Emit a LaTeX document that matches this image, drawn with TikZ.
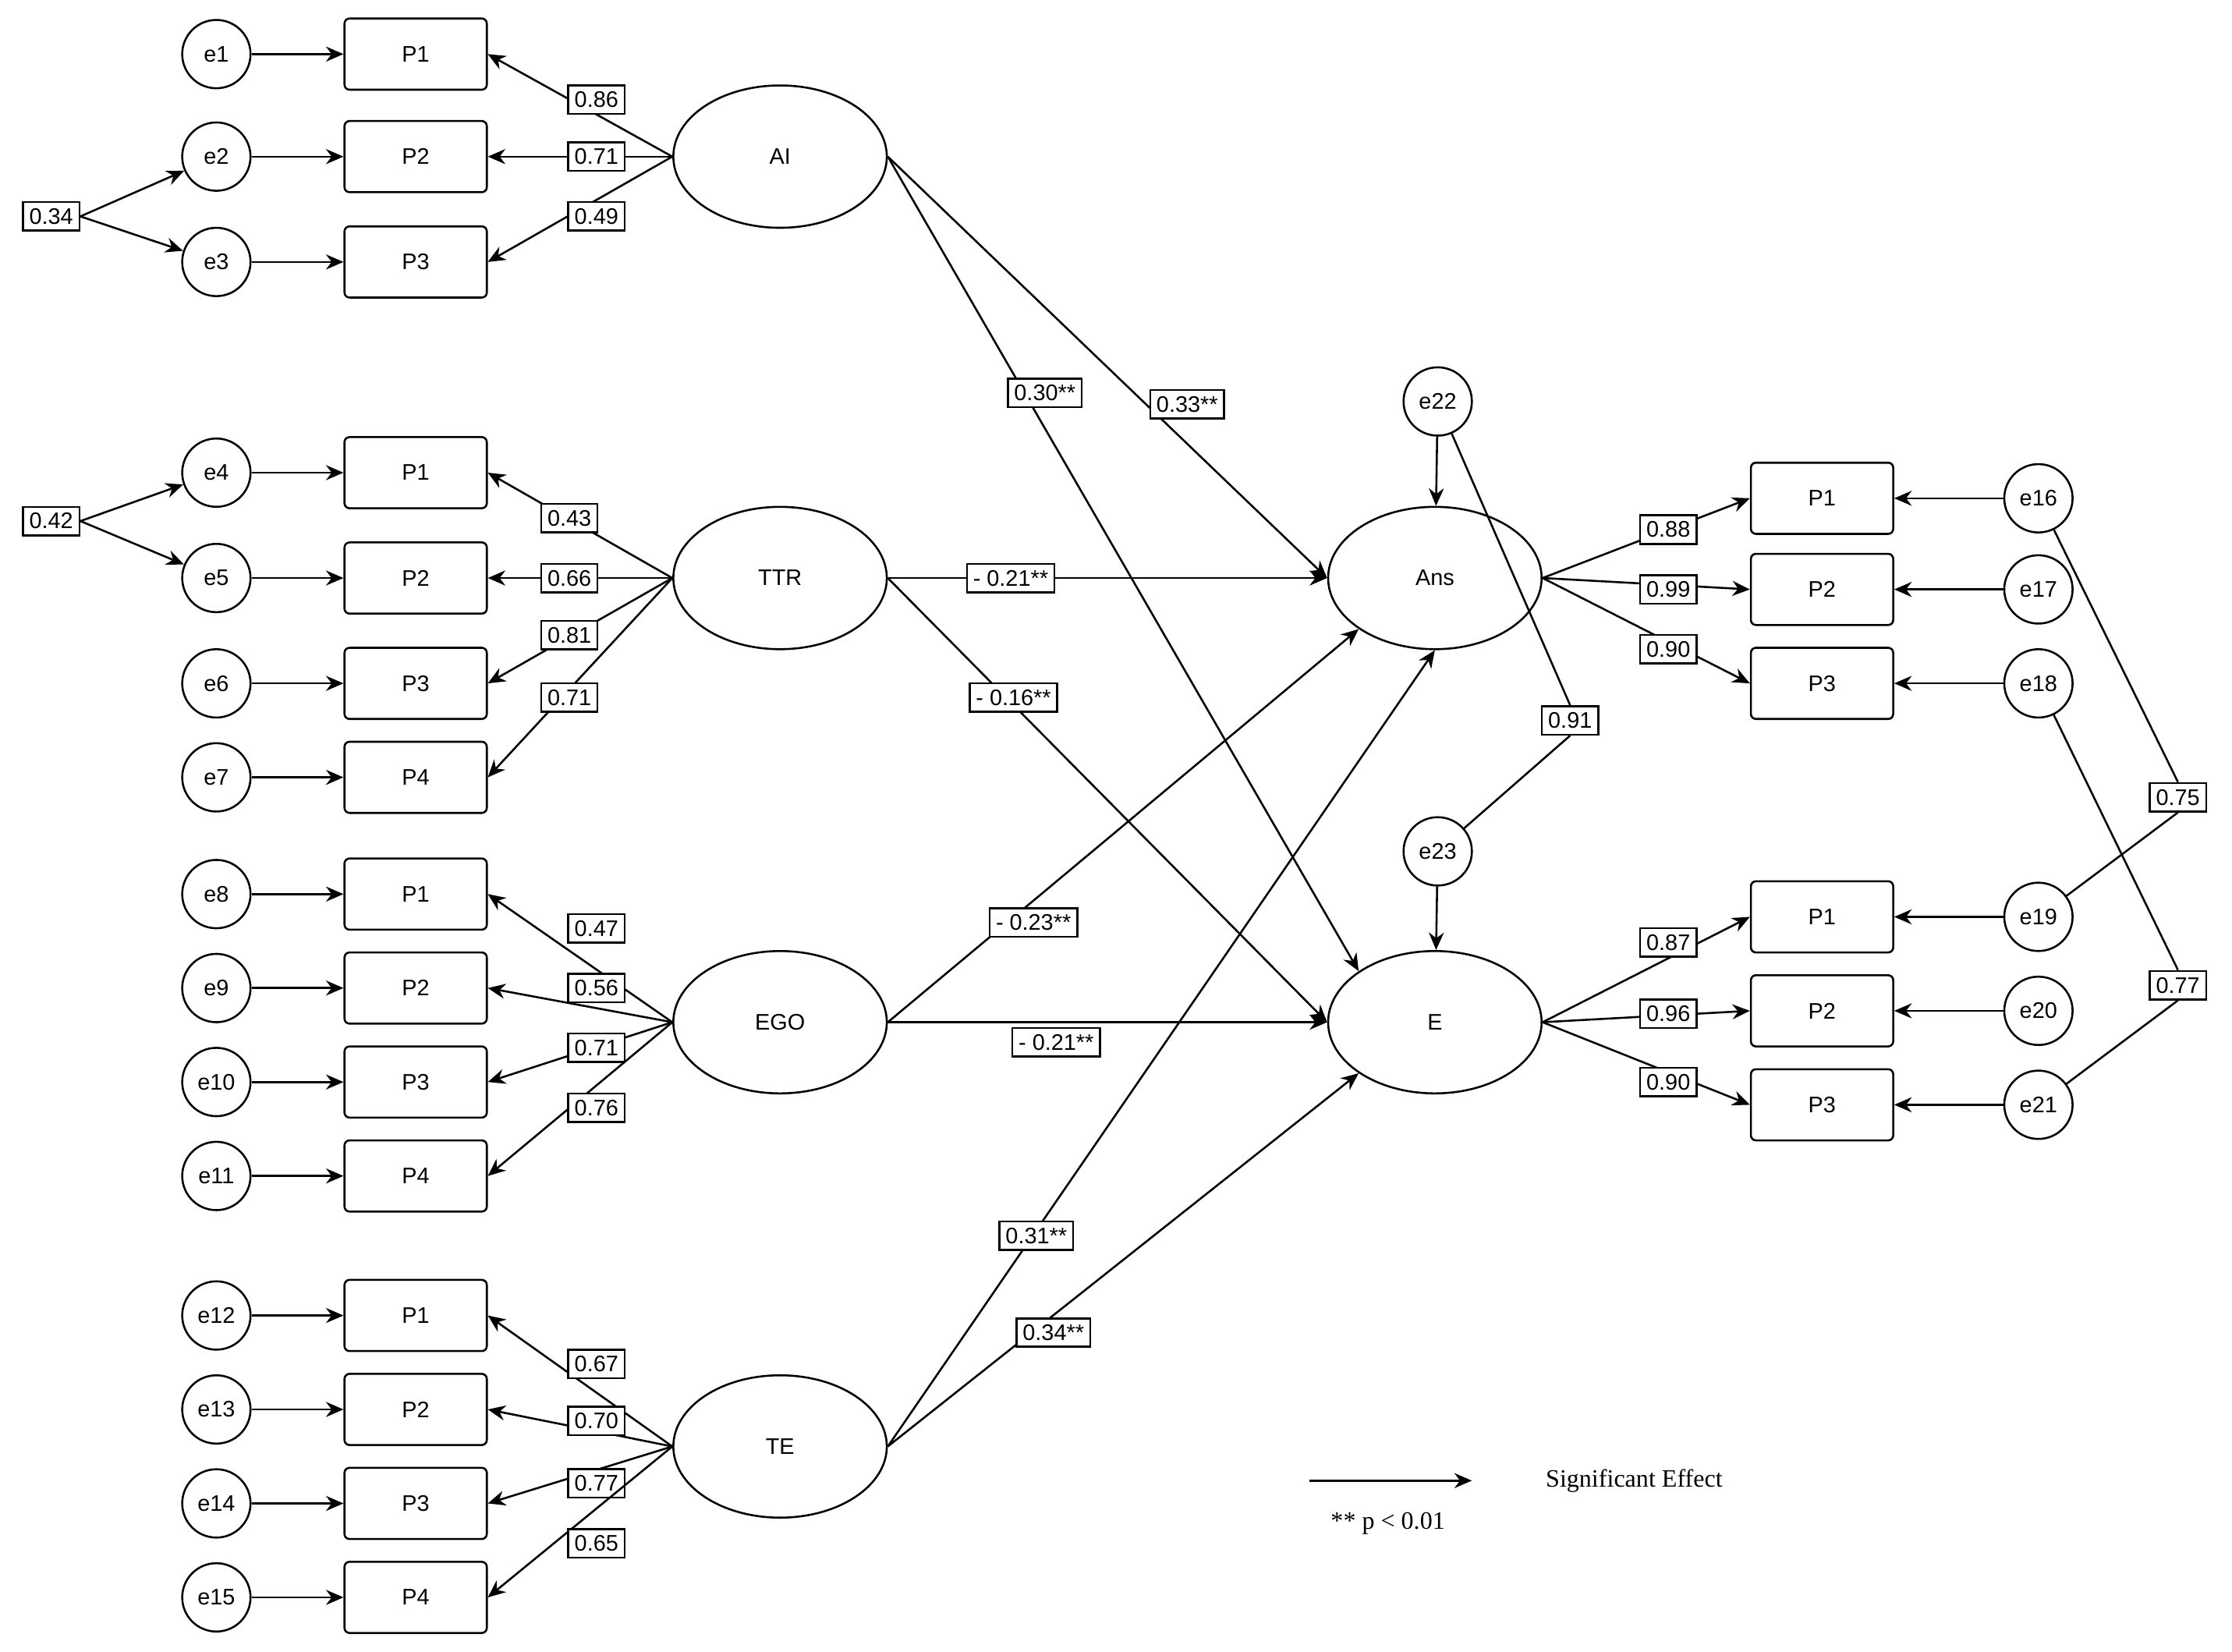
\documentclass[tikz,border=0pt]{standalone}
\usepackage{fontspec}
\setmainfont{Liberation Sans}
\newfontfamily\legendfont{Liberation Serif}
\usetikzlibrary{arrows.meta,shapes.geometric}
\tikzset{
  Err/.style={circle,draw,thick,minimum size=0.96cm,inner sep=0pt,font=\fontsize{9}{10}\selectfont},
  Item/.style={rectangle,rounded corners=2pt,draw,thick,minimum width=2cm,minimum height=1cm,font=\fontsize{9}{10}\selectfont},
  Lat/.style={ellipse,draw,thick,minimum width=3cm,minimum height=2cm,font=\fontsize{9}{10}\selectfont},
  Coef/.style={rectangle,draw,thick,fill=white,inner sep=2.5pt,font=\fontsize{9}{10}\selectfont},
  arr/.style={-{Stealth[length=7pt,width=6pt]},thick},
  ln/.style={thick}
}
\begin{document}
\begin{tikzpicture}[x=0.02cm,y=-0.02cm]
\useasboundingbox (0,0) rectangle (1568,1160);
% latent variables
\node[Lat] (AI) at (548,110) {AI};
\node[Lat] (TTR) at (548,406) {TTR};
\node[Lat] (EGO) at (548,718) {EGO};
\node[Lat] (TE) at (548,1016) {TE};
\node[Lat] (Ans) at (1008,406) {Ans};
\node[Lat] (E) at (1008,718) {E};
% left indicators
\foreach \n/\y/\nm in {1/38/a1,2/110/a2,3/184/a3,
  4/332/t1,5/406/t2,6/480/t3,7/546/t4,
  8/628/g1,9/694/g2,10/760/g3,11/826/g4,
  12/924/c1,13/990/c2,14/1056/c3,15/1122/c4}{
  \node[Err] (e\n) at (152,\y) {e\n};
  \node[Item] (\nm) at (292,\y) {};
  \draw[arr] (e\n) -- (\nm);
}
\foreach \nm/\t in {a1/P1,a2/P2,a3/P3,t1/P1,t2/P2,t3/P3,t4/P4,g1/P1,g2/P2,g3/P3,g4/P4,c1/P1,c2/P2,c3/P3,c4/P4}
  \node at (\nm) {\fontsize{9}{10}\selectfont\t};
% right indicators
\foreach \n/\y/\nm/\t in {16/350/r1/P1,17/414/r2/P2,18/480/r3/P3,19/644/s1/P1,20/710/s2/P2,21/776/s3/P3}{
  \node[Err] (e\n) at (1432,\y) {e\n};
  \node[Item] (\nm) at (1280,\y) {\t};
  \draw[arr] (e\n) -- (\nm);
}
\node[Err] (e22) at (1010,282) {e22};
\node[Err] (e23) at (1010,598) {e23};
\draw[arr] (e22) -- (Ans);
\draw[arr] (e23) -- (E);
% loadings
\foreach \l/\it/\x/\y/\v in {AI/a1/419/70/0.86,AI/a2/419/110/0.71,AI/a3/419/152/0.49,
  TTR/t1/400/364/0.43,TTR/t2/400/406/0.66,TTR/t3/400/446/0.81,TTR/t4/400/490/0.71,
  EGO/g1/419/652/0.47,EGO/g2/419/694/0.56,EGO/g3/419/736/0.71,EGO/g4/419/778/0.76,
  TE/c1/419/958/0.67,TE/c2/419/998/0.70,TE/c3/419/1042/0.77,TE/c4/419/1084/0.65}{
  \draw[arr] (\l.west) -- (\it.east);
  \node[Coef] (L\it) at (\x,\y) {\v};
}
\foreach \l/\it/\y/\v in {Ans/r1/372/0.88,Ans/r2/414/0.99,Ans/r3/456/0.90,
  E/s1/662/0.87,E/s2/712/0.96,E/s3/760/0.90}{
  \draw[arr] (\l.east) -- (\it.west);
  \node[Coef] (L\it) at (1172,\y) {\v};
}
% structural paths
\draw[arr] (AI.east) -- (E.north west);
\draw[arr] (AI.east) -- (Ans.west);
\draw[arr] (TTR.east) -- (Ans.west);
\draw[arr] (TTR.east) -- (E.west);
\draw[arr] (EGO.east) -- (Ans.south west);
\draw[arr] (EGO.east) -- (E.west);
\draw[arr] (TE.east) -- (Ans.south);
\draw[arr] (TE.east) -- (E.south west);
\node[Coef] (pAIE) at (734,276) {0.30**};
\node[Coef] (pAIA) at (834,284) {0.33**};
\node[Coef] (pTA) at (710,406) {- 0.21**};
\node[Coef] (pTE) at (712,490) {- 0.16**};
\node[Coef] (pGA) at (726,648) {- 0.23**};
\node[Coef] (pGE) at (742,732) {- 0.21**};
\node[Coef] (pCA) at (728,868) {0.31**};
\node[Coef] (pCE) at (740,936) {0.34**};
% covariances
\node[Coef] (c34) at (36,152) {0.34};
\node[Coef] (c42) at (36,366) {0.42};
\draw[arr] (c34.east) -- (e2);
\draw[arr] (c34.east) -- (e3);
\draw[arr] (c42.east) -- (e4);
\draw[arr] (c42.east) -- (e5);
\node[Coef] (c91) at (1103,506) {0.91};
\node[Coef] (c75) at (1530,560) {0.75};
\node[Coef] (c77) at (1530,692) {0.77};
\draw[ln] (e22) -- (c91.north) (c91.south) -- (e23);
\draw[ln] (e16) -- (c75.north) (c75.south) -- (e19);
\draw[ln] (e18) -- (c77.north) (c77.south) -- (e21);
% legend
\coordinate (lgA) at (920,1040);
\coordinate (lgB) at (1034,1040);
\draw[arr] (lgA) -- (lgB);
\node[font=\legendfont\fontsize{10}{12}\selectfont] (lgT) at (1148,1040) {Significant Effect};
\node[font=\legendfont\fontsize{10}{12}\selectfont] (lgP) at (975,1070) {** p < 0.01};
\end{tikzpicture}
\end{document}
